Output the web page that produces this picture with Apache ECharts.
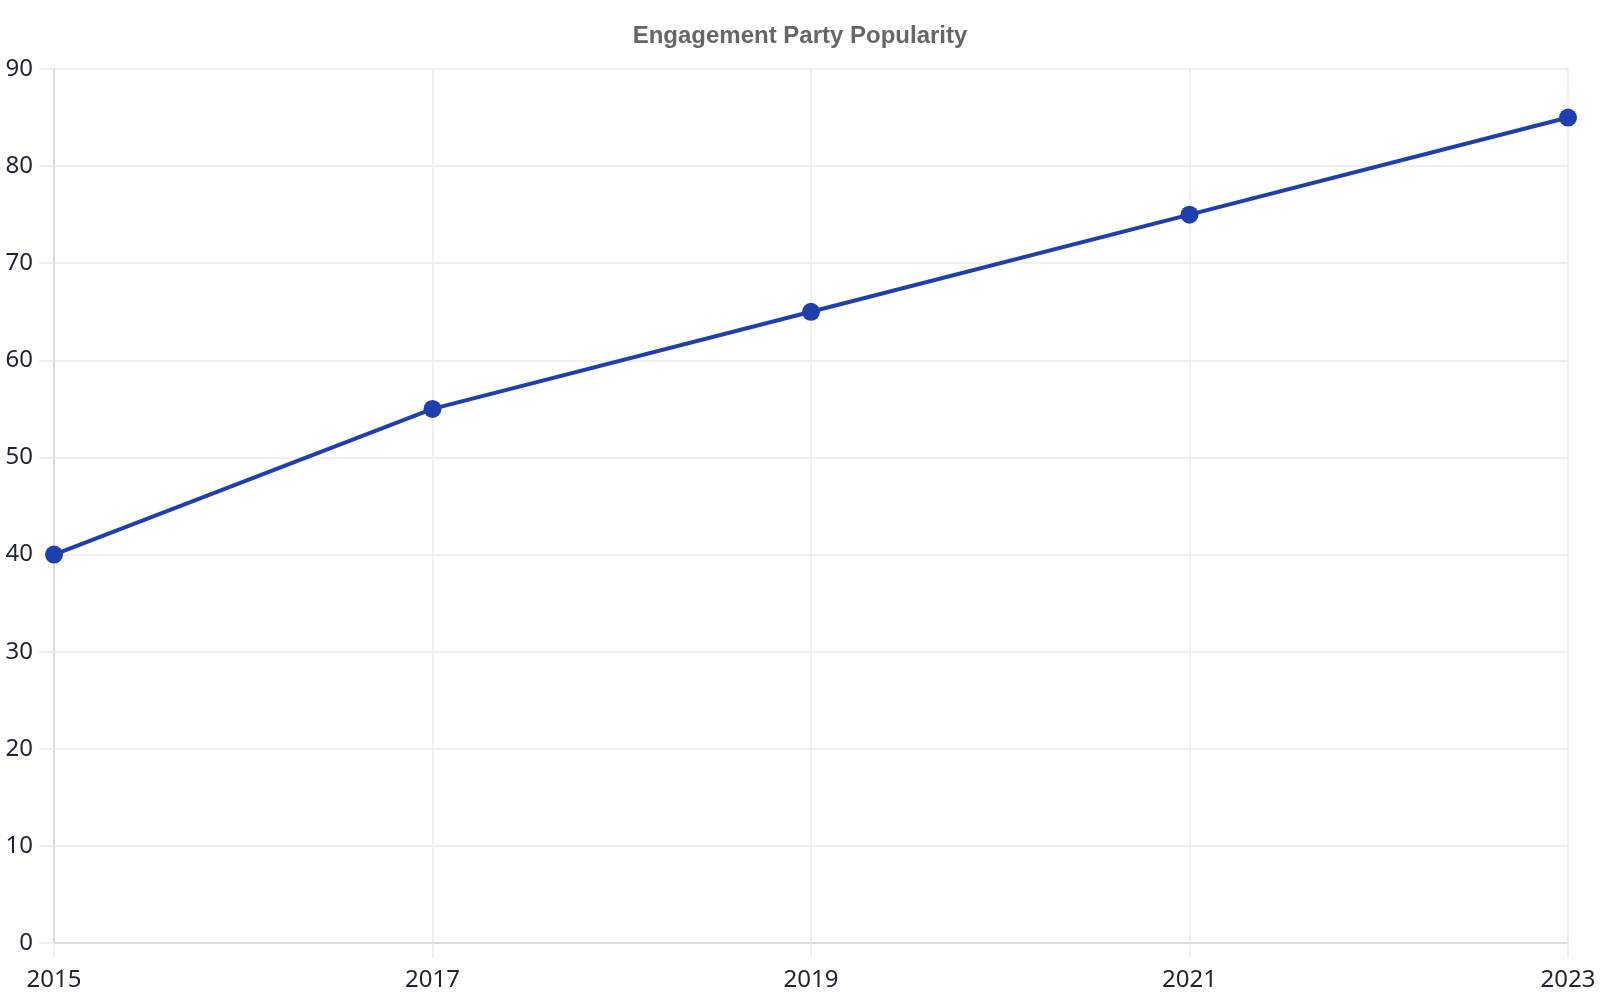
<!DOCTYPE html>
<html>
<head>
<meta charset="utf-8">
<title>Engagement Party Popularity</title>
<script src="https://cdn.jsdelivr.net/npm/echarts@6/dist/echarts.min.js"></script>
<style>
    html, body { margin: 0; padding: 0; background: #fff; }
    #chart { width: 1600px; height: 1000px; }
</style>
</head>
<body>
<div id="chart"></div>
<script>
// data
var years = ['2015', '2017', '2019', '2021', '2023'];
var popularity = [40, 55, 65, 75, 85];

var myChart = echarts.init(document.getElementById('chart'));
myChart.setOption({
    backgroundColor: '#fff',
    animation: false,
    title: {
        text: 'Engagement Party Popularity',
        left: 'center',
        top: 19,
        textStyle: {
            fontFamily: 'Liberation Sans, Arial, sans-serif',
            fontSize: 24,
            fontWeight: 'bold',
            color: '#666'
        }
    },
    grid: {
        left: 54,
        right: 32,
        top: 69,
        bottom: 57,
        containLabel: false
    },
    xAxis: {
        type: 'category',
        data: years,
        boundaryGap: false,
        axisLine: { show: true, lineStyle: { color: '#d6d6d6', width: 1.5 } },
        axisTick: { show: true, length: 15, alignWithLabel: true, lineStyle: { color: '#ebebeb', width: 1.5 } },
        axisLabel: {
            margin: 25,
            fontFamily: 'Noto Sans, sans-serif',
            fontSize: 24,
            color: '#1f2430'
        },
        splitLine: { show: true, lineStyle: { color: '#ebebeb', width: 1.5 } }
    },
    yAxis: {
        type: 'value',
        min: 0,
        max: 90,
        interval: 10,
        axisLine: { show: true, lineStyle: { color: '#d6d6d6', width: 1.5 } },
        axisTick: { show: true, length: 15, lineStyle: { color: '#ebebeb', width: 1.5 } },
        axisLabel: {
            margin: 21,
            fontFamily: 'Noto Sans, sans-serif',
            fontSize: 24,
            color: '#1f2430'
        },
        splitLine: { show: true, lineStyle: { color: '#ebebeb', width: 1.5 } }
    },
    series: [{
        name: 'Popularity',
        type: 'line',
        data: popularity,
        symbol: 'circle',
        symbolSize: 18,
        lineStyle: { color: '#1e3fae', width: 4 },
        itemStyle: { color: '#1e3fae' }
    }]
});
</script>
</body>
</html>
